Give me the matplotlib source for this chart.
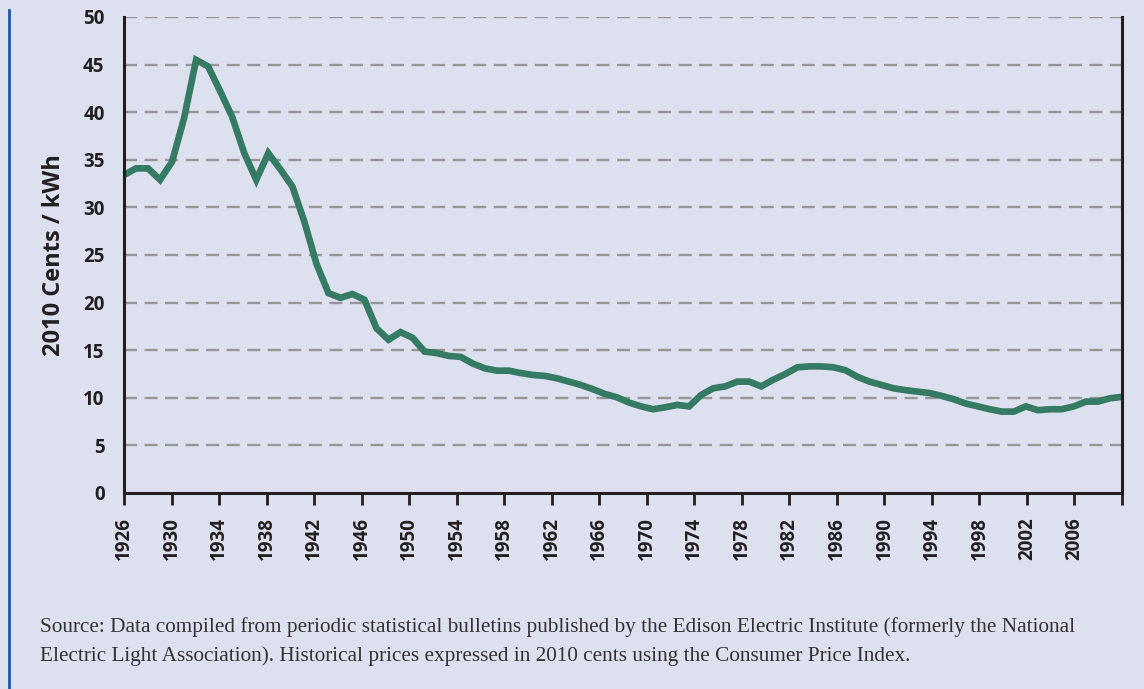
import numpy as np
import matplotlib
matplotlib.use("Agg")
import matplotlib.pyplot as plt
from matplotlib.lines import Line2D

# Real residential electricity price, 2010 cents per kWh (annual series, 1926 onward)
price_cents = [
    33.4, 34.1, 34.1, 32.9, 34.8, 39.4, 45.5, 44.8, 42.2, 39.5,
    35.7, 32.9, 35.7, 34.0, 32.2, 28.5, 24.1, 21.0, 20.5, 20.9,
    20.3, 17.3, 16.1, 16.9, 16.3, 14.85, 14.7, 14.4, 14.3, 13.6,
    13.1, 12.85, 12.85, 12.6, 12.4, 12.3, 12.05, 11.7, 11.35, 10.9,
    10.4, 10.05, 9.5, 9.1, 8.8, 9.0, 9.25, 9.1, 10.3, 11.0,
    11.2, 11.7, 11.7, 11.2, 11.9, 12.5, 13.2, 13.3, 13.3, 13.2,
    12.9, 12.2, 11.7, 11.35, 11.0, 10.8, 10.65, 10.5, 10.2, 9.85,
    9.4, 9.1, 8.8, 8.55, 8.55, 9.1, 8.7, 8.8, 8.8, 9.1,
    9.6, 9.6, 9.95, 10.1,
]
year_start, year_end = 1926, 2010
tick_years = list(range(1926, 2007, 4)) + [2010]
tick_labels = [str(y) for y in range(1926, 2007, 4)] + [""]
y_ticks = list(range(0, 51, 5))

source_note = ("Source: Data compiled from periodic statistical bulletins published by the "
               "Edison Electric Institute (formerly the National\n"
               "Electric Light Association). Historical prices expressed in 2010 cents "
               "using the Consumer Price Index.")

BG = "#dde0ee"
INK = "#231f20"
LINE = "#357a62"
SANS = ["Open Sans", "DejaVu Sans"]

W, H = 1144, 689
fig = plt.figure(figsize=(W / 100, H / 100), dpi=100, facecolor=BG)
ax = fig.add_axes([124 / W, 1 - 493 / H, (1122 - 124) / W, (493 - 17) / H])
ax.set_facecolor(BG)

# series spans the full category range of the axis
x = np.linspace(year_start, year_end, len(price_cents))
ax.plot(x, price_cents, color=LINE, lw=4.8, solid_joinstyle="miter",
        solid_capstyle="butt", zorder=3, clip_on=False)

ax.set_xlim(year_start, year_end)
ax.set_ylim(0, 50)
ax.set_yticks(y_ticks)
ax.set_xticks(tick_years)
ax.set_xticklabels(tick_labels, rotation=90)

for yv in y_ticks[1:]:
    ax.axhline(yv, color="#969696", lw=1.7, dashes=(5.5, 3.2), zorder=1)

ax.spines["top"].set_visible(False)
for side in ("left", "bottom", "right"):
    ax.spines[side].set_color(INK)
    ax.spines[side].set_linewidth(2.2)
    ax.spines[side].set_zorder(4)

ax.tick_params(axis="y", length=0, pad=14, labelcolor=INK)
ax.tick_params(axis="x", length=8.5, width=2.0, color=INK, pad=9, labelcolor=INK)
for lab in ax.get_yticklabels() + ax.get_xticklabels():
    lab.set_fontfamily(SANS)
    lab.set_fontweight("bold")
    lab.set_fontsize(13.5)

ax.set_ylabel("2010 Cents / kWh", fontfamily=SANS, fontweight="bold",
              fontsize=17, color=INK, labelpad=12)

# blue rule down the left edge of the panel
fig.add_artist(Line2D([9 / W, 9 / W], [0, 1 - 10 / H], transform=fig.transFigure,
                      color="#1d58a0", lw=2.0))

fig.text(40 / W, 1 - 661 / H, source_note, fontfamily=["Liberation Serif", "DejaVu Serif"],
         fontsize=15.3, color="#333333", linespacing=1.6, va="baseline")

fig.savefig("out.png", dpi=100, facecolor=BG)
plt.close(fig)
